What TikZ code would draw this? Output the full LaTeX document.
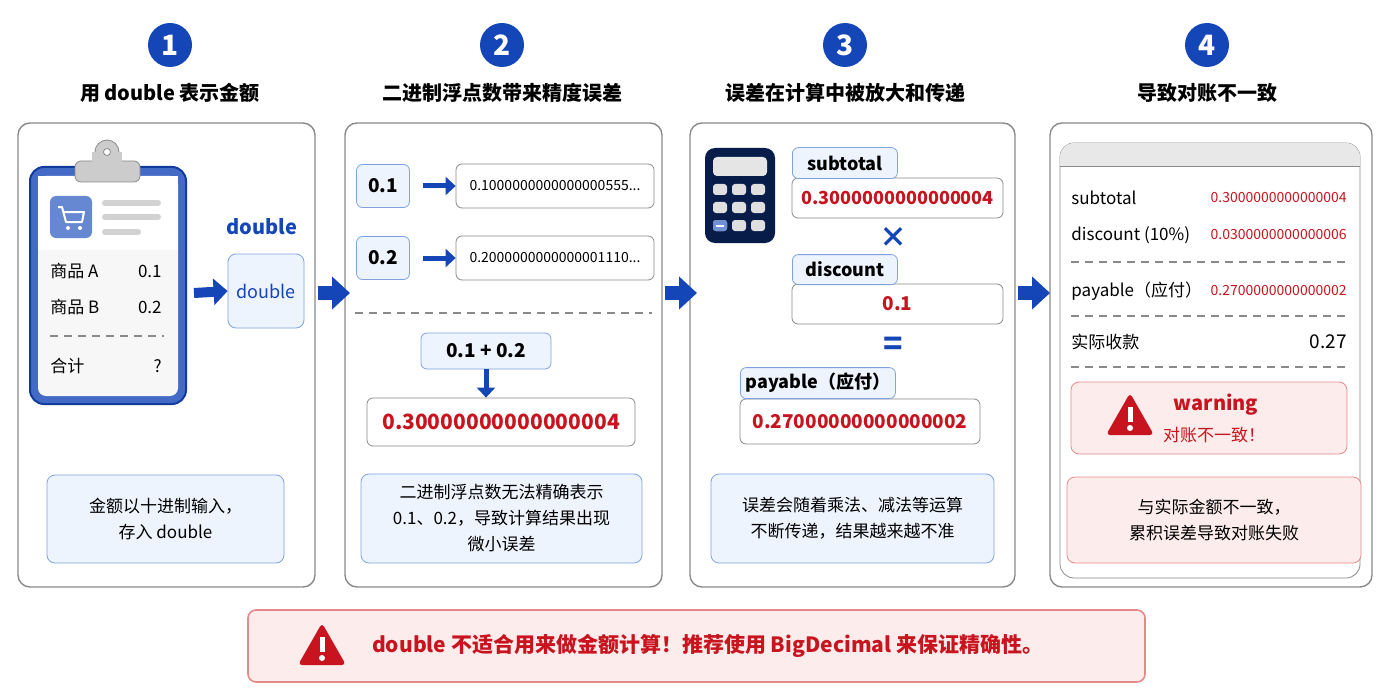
\documentclass[tikz,border=0pt]{standalone}
\usepackage{fontspec}
\setmainfont{Noto Sans CJK SC}
\usetikzlibrary{arrows.meta,positioning,shapes.geometric}
\definecolor{bblue}{HTML}{1446B8}
\definecolor{lblue}{HTML}{EEF4FE}
\definecolor{eblue}{HTML}{7FA3E0}
\definecolor{rred}{HTML}{C8141E}
\definecolor{lred}{HTML}{FDECEC}
\definecolor{ered}{HTML}{E58A8A}
\definecolor{gline}{HTML}{8A8A8A}
\tikzset{
  panel/.style={draw=gline, line width=0.7pt, rounded corners=6pt, fill=white},
  stepnum/.style={circle, fill=bblue, text=white, font=\bfseries\fontsize{14}{14}\selectfont, minimum size=22pt, inner sep=0pt},
  title/.style={font=\bfseries\fontsize{10}{12}\selectfont},
  note/.style={draw=eblue, fill=lblue, rounded corners=4pt, align=center, font=\fontsize{8.5}{13}\selectfont},
  rnote/.style={draw=ered, fill=lred, rounded corners=4pt, align=center, font=\fontsize{8.5}{13}\selectfont},
  tag/.style={draw=eblue, fill=lblue, rounded corners=3pt, font=\bfseries\fontsize{9}{9}\selectfont, inner sep=0pt},
  val/.style={draw=gline, fill=white, rounded corners=3pt, inner sep=0pt},
  flow/.style={bblue, line width=7pt, -{Triangle[length=9pt,width=16pt]}},
  small/.style={bblue, line width=2.5pt, -{Triangle[length=5pt,width=9pt]}},
  row/.style={inner sep=0pt, font=\fontsize{8.5}{8.5}\selectfont},
  redsmall/.style={inner sep=0pt, text=rred, font=\fontsize{7}{7}\selectfont},
  sepline/.style={gline, dash pattern=on 4pt off 3pt, line width=0.6pt},
}
\newcommand{\warnsign}[2]{%
  \fill[rred, rounded corners=2pt] (#1-24,#2+20) -- (#1,#2-22) -- (#1+24,#2+20) -- cycle;
  \fill[white] (#1-2.5,#2-8) rectangle (#1+2.5,#2+7);
  \fill[white] (#1,#2+13) circle (3);}
\begin{document}
\begin{tikzpicture}[x=0.5pt,y=-0.5pt]
\useasboundingbox (0,0) rectangle (1400,700);

% step headers
\foreach \n/\x/\t in {1/170/用 double 表示金额, 2/502/二进制浮点数带来精度误差, 3/845/误差在计算中被放大和传递, 4/1207/导致对账不一致}{
  \node[stepnum] (s\n) at (\x,45) {\n};
  \node[title] (t\n) at (\x,93) {\t};
}

% panels
\node[panel, minimum width=148.5pt, minimum height=232pt] (p1) at (166.5,355) {};
\node[panel, minimum width=158.5pt, minimum height=232pt] (p2) at (503.5,355) {};
\node[panel, minimum width=162.5pt, minimum height=232pt] (p3) at (852.5,355) {};
\node[panel, minimum width=161pt, minimum height=232pt] (p4) at (1211,355) {};
\coordinate (a1) at (318,293); \coordinate (b1) at (350,293);
\coordinate (a2) at (665,293); \coordinate (b2) at (697,293);
\coordinate (a3) at (1018,293); \coordinate (b3) at (1050,293);
\draw[flow] (a1) -- (b1);
\draw[flow] (a2) -- (b2);
\draw[flow] (a3) -- (b3);

% panel 1: clipboard
\draw[bblue!85!black, fill=bblue!80, line width=1pt, rounded corners=7pt] (30,167) rectangle (186,404);
\fill[white!94!gray, rounded corners=4pt] (38,176) rectangle (178,396);
\fill[white] (38,176) rectangle (178,250);
\draw[gline, fill=gray!40, rounded corners=3pt] (75,161) rectangle (140,182);
\draw[gline, fill=gray!40] (107,152) circle (12);
\fill[gray!40] (92,152) rectangle (122,165);
\draw[gline, fill=white] (107,152) circle (3.5);
\fill[bblue!65, rounded corners=3pt] (50,196) rectangle (92,238);
\draw[white, line width=1pt, line join=round] (58,207) -- (62,207) -- (66,222) -- (82,222) -- (84,212) -- (64,212);
\fill[white] (68,228) circle (2) (80,228) circle (2);
\foreach \y/\l in {203/158, 217/158, 232/138}{ \draw[gray!35, line width=3pt, line cap=round] (105,\y) -- (\l,\y); }
\node[row, anchor=west] (ia) at (50,271) {商品 A};
\node[row, anchor=east] (va) at (162,271) {0.1};
\node[row, anchor=west] (ib) at (50,307) {商品 B};
\node[row, anchor=east] (vb) at (162,307) {0.2};
\draw[sepline] (50,336) -- (164,336);
\node[row, anchor=west] (ic) at (50,366) {合计};
\node[row, anchor=east] (vc) at (162,366) {?};
\coordinate (c1) at (194,293);
\node[text=bblue, font=\bfseries\fontsize{10}{10}\selectfont] (dl) at (262,227) {double};
\node[note, minimum width=38pt, minimum height=37pt, inner sep=0pt, font=\fontsize{9}{9}\selectfont, text=bblue] (db) at (266,291) {double};
\draw[flow, line width=5pt, -{Triangle[length=7pt,width=13pt]}] (c1) -- (db.west);
\node[note, minimum width=118.5pt, minimum height=44pt] (n1) at (165.5,519) {金额以十进制输入，\\存入 double};

% panel 2
\node[tag, minimum width=26.5pt, minimum height=21.5pt, font=\bfseries\fontsize{9.5}{9.5}\selectfont] (x1) at (383,186) {0.1};
\node[val, minimum width=99pt, minimum height=22pt, redsmall, text=black] (y1) at (555,186) {0.1000000000000000555...};
\draw[small] (x1) ++(40,0) coordinate (q1) -- (y1.west);
\node[tag, minimum width=26.5pt, minimum height=21.5pt, font=\bfseries\fontsize{9.5}{9.5}\selectfont] (x2) at (383,258) {0.2};
\node[val, minimum width=99pt, minimum height=22pt, redsmall, text=black] (y2) at (555,258) {0.2000000000000001110...};
\draw[small] (x2) ++(40,0) coordinate (q2) -- (y2.west);
\draw[sepline] (355,313) -- (652,313);
\node[tag, minimum width=65pt, minimum height=18pt, font=\bfseries\fontsize{9.5}{9.5}\selectfont] (sum) at (486,351) {0.1 + 0.2};
\node[val, minimum width=134pt, minimum height=24pt, text=rred, font=\bfseries\fontsize{10.5}{10.5}\selectfont] (res) at (501,422) {0.30000000000000004};
\draw[small] (sum.south) -- (sum.south |- res.north);
\node[note, minimum width=140.5pt, minimum height=44.5pt] (n2) at (501.5,518.5) {二进制浮点数无法精确表示\\0.1、0.2，导致计算结果出现\\微小误差};

% panel 3: calculator
\fill[bblue!40!black, rounded corners=5pt] (705,148) rectangle (775,243);
\fill[gray!20, rounded corners=2pt] (713,157) rectangle (767,176);
\foreach \i in {0,1,2}{ \foreach \j in {0,1,2}{
  \fill[gray!25, rounded corners=1.5pt] (713+\i*19,184+\j*18) rectangle (727+\i*19,195+\j*18);}}
\fill[bblue!60, rounded corners=1.5pt] (713,220) rectangle (727,231);
\draw[white, line width=1pt] (716,225.5) -- (724,225.5);
\node[val, minimum width=105.5pt, minimum height=20pt, text=rred, font=\bfseries\fontsize{9}{9}\selectfont] (sv) at (897.5,198) {0.3000000000000004};
\node[tag, minimum width=52.5pt, minimum height=15.5pt, anchor=south west] (st) at (792,179) {subtotal};
\node[text=bblue, font=\bfseries\fontsize{14}{14}\selectfont] (mul) at (893,237) {×};
\node[val, minimum width=105.5pt, minimum height=20pt, text=rred, font=\bfseries\fontsize{9.5}{9.5}\selectfont] (dv) at (897.5,304) {0.1};
\node[tag, minimum width=52.5pt, minimum height=15pt, anchor=south west] (dt) at (792,285) {discount};
\node[text=bblue, font=\bfseries\fontsize{16}{16}\selectfont] (eq) at (893,346) {=};
\node[val, minimum width=120pt, minimum height=22.5pt, text=rred, font=\bfseries\fontsize{9.5}{9.5}\selectfont] (pv) at (860,421.5) {0.27000000000000002};
\node[tag, minimum width=77.5pt, minimum height=15.5pt, anchor=south west] (pt) at (740,399) {payable（应付）};
\node[note, minimum width=141.5pt, minimum height=44.5pt] (n3) at (852.5,518.5) {误差会随着乘法、减法等运算\\不断传递，结果越来越不准};

% panel 4: statement
\draw[gline, fill=white, rounded corners=7pt] (1060,143) rectangle (1360,578);
\begin{scope}
\clip[rounded corners=7pt] (1060,143) rectangle (1360,578);
\fill[gray!18] (1060,143) rectangle (1360,166);
\end{scope}
\draw[gline] (1060,166) -- (1360,166);
\node[row, anchor=west] (l1) at (1071,198) {subtotal};
\node[redsmall, anchor=east] (r1) at (1347,198) {0.3000000000000004};
\node[row, anchor=west] (l2) at (1071,235) {discount (10\%)};
\node[redsmall, anchor=east] (r2) at (1347,235) {0.0300000000000006};
\draw[sepline] (1071,262) -- (1347,262);
\node[row, anchor=west] (l3) at (1071,291) {payable（应付）};
\node[redsmall, anchor=east] (r3) at (1347,291) {0.2700000000000002};
\draw[sepline] (1071,316) -- (1347,316);
\node[row, anchor=west] (l4) at (1071,342) {实际收款};
\node[row, anchor=east, font=\fontsize{9.5}{9.5}\selectfont] (r4) at (1347,342) {0.27};
\draw[sepline] (1071,367) -- (1347,367);
\node[rnote, minimum width=138pt, minimum height=36pt] (wb) at (1209,418) {};
\warnsign{1130}{415}
\node[text=rred, font=\bfseries\fontsize{10}{10}\selectfont] (wt) at (1216,405) {warning};
\node[text=rred, font=\fontsize{8.5}{8.5}\selectfont] (wc) at (1214,435) {对账不一致！};
\node[rnote, minimum width=147pt, minimum height=43pt] (n4) at (1214,520) {与实际金额不一致，\\累积误差导致对账失败};

% bottom banner
\node[rnote, line width=0.8pt, minimum width=448.5pt, minimum height=36pt] (ban) at (696.5,646) {};
\warnsign{322}{645}
\node[text=rred, font=\bfseries\fontsize{10.5}{10.5}\selectfont, anchor=west] (bt) at (365,646) {double 不适合用来做金额计算！推荐使用 BigDecimal 来保证精确性。};
\end{tikzpicture}
\end{document}
